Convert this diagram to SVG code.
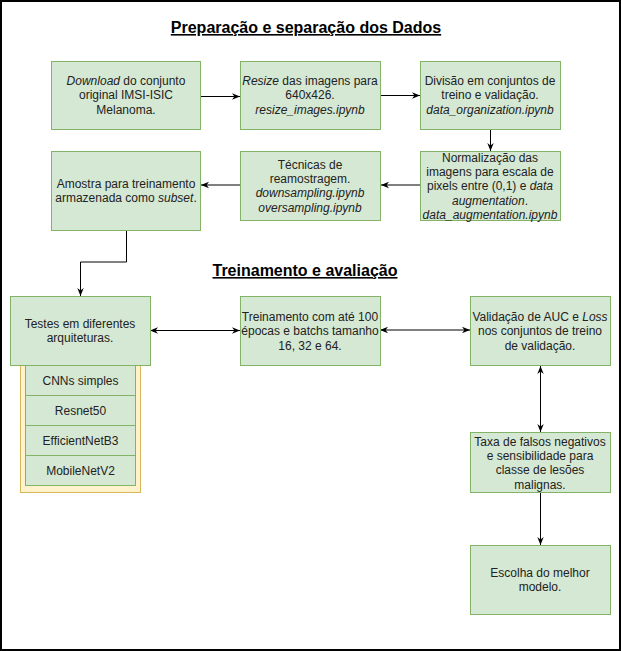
<svg xmlns="http://www.w3.org/2000/svg" width="621" height="651" viewBox="0 0 621 651">
<style>
.box{fill:#d5e8d4;stroke:#82b366;stroke-width:1}
.t{font-family:"Liberation Sans",Arial,sans-serif;font-size:12px;fill:#222;text-anchor:middle}
.title{font-family:"Liberation Sans",Arial,sans-serif;font-size:16px;font-weight:bold;fill:#000;text-anchor:middle;text-decoration:underline}
.i{font-style:italic}
.c{fill:none;stroke:#000;stroke-width:1}
</style>
<defs>
<marker id="arr" viewBox="0 0 10 10" refX="10" refY="5" markerWidth="8" markerHeight="8" markerUnits="userSpaceOnUse" orient="auto-start-reverse">
<path d="M0,1 L10,5 L0,9 L3,5 z" fill="#000"/>
</marker>
</defs>
<rect x="1" y="1" width="619" height="649" fill="#fff" stroke="#000" stroke-width="2"/>

<text class="title" x="306" y="33">Preparação e separação dos Dados</text>
<text class="title" x="305" y="276">Treinamento e avaliação</text>

<g id="connectors">
<path class="c" d="M201,96.5 L240,96.5" marker-end="url(#arr)"/>
<path class="c" d="M380,95.5 L420,95.5" marker-end="url(#arr)"/>
<path class="c" d="M490.5,129 L490.5,151" marker-end="url(#arr)"/>
<path class="c" d="M420,185 L381,185" marker-end="url(#arr)"/>
<path class="c" d="M240,185 L201,185" marker-end="url(#arr)"/>
<path class="c" d="M126.5,231 L126.5,262 L80.5,262 L80.5,296" marker-end="url(#arr)"/>
<path class="c" d="M150,330.5 L240,330.5" marker-start="url(#arr)" marker-end="url(#arr)"/>
<path class="c" d="M380,330 L470,330" marker-start="url(#arr)" marker-end="url(#arr)"/>
<path class="c" d="M540.5,366 L540.5,432" marker-start="url(#arr)" marker-end="url(#arr)"/>
<path class="c" d="M540.5,493 L540.5,545" marker-end="url(#arr)"/>
</g>

<g id="n-download">
<rect class="box" x="51.5" y="61.5" width="149" height="68"/>
<text class="t" x="126" y="85"><tspan class="i">Download</tspan> do conjunto</text>
<text class="t" x="126" y="99.4">original IMSI-ISIC</text>
<text class="t" x="126" y="113.8">Melanoma.</text>
</g>

<g id="n-resize">
<rect class="box" x="240.5" y="61.5" width="140" height="68"/>
<text class="t" x="310" y="85"><tspan class="i">Resize</tspan> das imagens para</text>
<text class="t" x="310" y="99.4">640x426.</text>
<text class="t i" x="310" y="113.8">resize_images.ipynb</text>
</g>

<g id="n-divisao">
<rect class="box" x="420.5" y="61.5" width="140" height="68"/>
<text class="t" x="490" y="85">Divisão em conjuntos de</text>
<text class="t" x="490" y="99.4">treino e validação.</text>
<text class="t i" x="490" y="113.8">data_organization.ipynb</text>
</g>

<g id="n-normalizacao">
<rect class="box" x="420.5" y="151.5" width="140" height="69"/>
<text class="t" x="490" y="161.5">Normalização das</text>
<text class="t" x="490" y="175.9">imagens para escala de</text>
<text class="t" x="490" y="190.3">pixels entre (0,1) e <tspan class="i">data</tspan></text>
<text class="t" x="490" y="204.7"><tspan class="i">augmentation</tspan>.</text>
<text class="t i" x="490" y="219.1">data_augmentation.ipynb</text>
</g>

<g id="n-tecnicas">
<rect class="box" x="240.5" y="151.5" width="140" height="69"/>
<text class="t" x="310" y="168.6">Técnicas de</text>
<text class="t" x="310" y="183">reamostragem.</text>
<text class="t i" x="310" y="197.4">downsampling.ipynb</text>
<text class="t i" x="310" y="211.8">oversampling.ipynb</text>
</g>

<g id="n-amostra">
<rect class="box" x="51.5" y="151.5" width="149" height="79"/>
<text class="t" x="126" y="188">Amostra para treinamento</text>
<text class="t" x="126" y="202.4">armazenada como <tspan class="i">subset</tspan>.</text>
</g>

<g id="n-arquiteturas">
<rect x="20.5" y="300.5" width="120" height="192" fill="#fff2cc" stroke="#d6b656"/>
<rect class="box" x="10.5" y="296.5" width="140" height="69"/>
<text class="t" x="80" y="328">Testes em diferentes</text>
<text class="t" x="80" y="342.4">arquiteturas.</text>
</g>

<g id="n-cnn">
<rect class="box" x="25.5" y="365.5" width="110" height="30"/>
<text class="t" x="80.5" y="385">CNNs simples</text>
</g>
<g id="n-resnet">
<rect class="box" x="25.5" y="395.5" width="110" height="30"/>
<text class="t" x="80.5" y="415">Resnet50</text>
</g>
<g id="n-efficient">
<rect class="box" x="25.5" y="425.5" width="110" height="30"/>
<text class="t" x="80.5" y="445">EfficientNetB3</text>
</g>
<g id="n-mobile">
<rect class="box" x="25.5" y="455.5" width="110" height="30"/>
<text class="t" x="80.5" y="475">MobileNetV2</text>
</g>

<g id="n-treinamento">
<rect class="box" x="240.5" y="296.5" width="140" height="69"/>
<text class="t" x="310" y="320.8">Treinamento com até 100</text>
<text class="t" x="310" y="335.2">épocas e batchs tamanho</text>
<text class="t" x="310" y="349.6">16, 32 e 64.</text>
</g>

<g id="n-validacao">
<rect class="box" x="470.5" y="296.5" width="140" height="69"/>
<text class="t" x="540" y="320.8">Validação de AUC e <tspan class="i">Loss</tspan></text>
<text class="t" x="540" y="335.2">nos conjuntos de treino</text>
<text class="t" x="540" y="349.6">de validação.</text>
</g>

<g id="n-taxa">
<rect class="box" x="470.5" y="432.5" width="140" height="60"/>
<text class="t" x="540" y="445.6">Taxa de falsos negativos</text>
<text class="t" x="540" y="460">e sensibilidade para</text>
<text class="t" x="540" y="474.4">classe de lesões</text>
<text class="t" x="540" y="488.8">malignas.</text>
</g>

<g id="n-escolha">
<rect class="box" x="470.5" y="545.5" width="140" height="69"/>
<text class="t" x="540" y="577">Escolha do melhor</text>
<text class="t" x="540" y="591.4">modelo.</text>
</g>
</svg>
